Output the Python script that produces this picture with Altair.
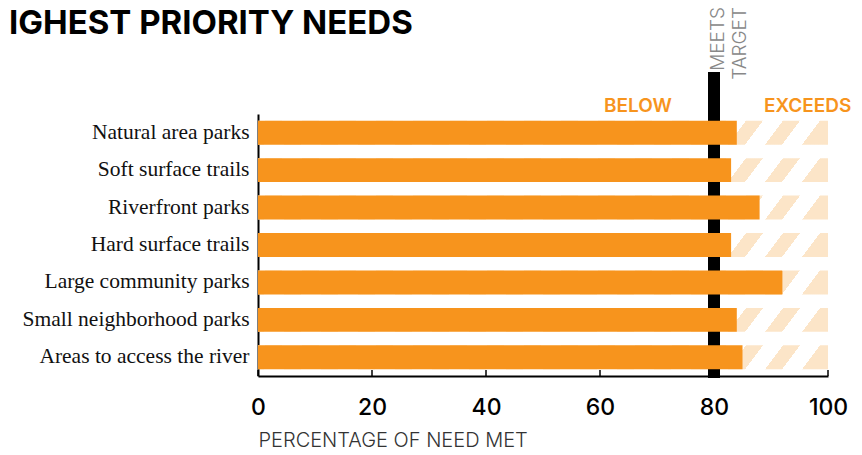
import altair as alt
import pandas as pd

# ---------------- data ----------------
categories = ["Natural area parks", "Soft surface trails", "Riverfront parks",
              "Hard surface trails", "Large community parks",
              "Small neighborhood parks", "Areas to access the river"]
percent_met = [84, 83, 88, 83, 92, 84, 85]
x_ticks = [0, 20, 40, 60, 80, 100]
target_value = [80]
scale_max = 100
title_text = ["IGHEST PRIORITY NEEDS"]
x_title = "PERCENTAGE OF NEED MET"
below_label = ["BELOW"]
exceeds_label = ["EXCEEDS"]
target_label = ["MEETS\nTARGET"]

# ---------------- style ----------------
ORANGE = "#F7941D"
LIGHT = "#FCE5C8"
WHITE = "#FFFFFF"
W, H = 570, 262
P_IN, P_OUT = 0.36, 0.18
BAR_PX = H / (len(categories) - P_IN + 2 * P_OUT) * (1 - P_IN)

# diagonal hatch built as a hard-stop linear gradient
SLOPE = 0.75          # horizontal shift per px of height
PERIOD, WHITE_W, PHASE = 37.0, 20.0, 505.0
b = SLOPE * BAR_PX / W
norm = W * (1 + b * b)


def hatch_color(s):
    return WHITE if ((s - PHASE) % PERIOD) < WHITE_W else LIGHT


edges = []
for k in range(-20, 5):
    for e in (PHASE + k * PERIOD, PHASE + k * PERIOD + WHITE_W):
        if 0 < e < norm:
            edges.append(e)
edges.sort()
stops = [alt.GradientStop(offset=0, color=hatch_color(0.0))]
for e in edges:
    off = e / norm
    stops.append(alt.GradientStop(offset=off, color=hatch_color(e - 0.01)))
    stops.append(alt.GradientStop(offset=off, color=hatch_color(e + 0.01)))
stops.append(alt.GradientStop(offset=1, color=hatch_color(norm)))
hatch = alt.LinearGradient(gradient="linear", stops=stops, x1=0, y1=0, x2=1, y2=b)

df = pd.DataFrame({"category": categories, "pct": percent_met})
ticks_df = pd.DataFrame({"tick": x_ticks})
target_df = pd.DataFrame({"target": target_value})

xscale = alt.Scale(domain=[0, scale_max], nice=False, zero=True)
yscale = alt.Scale(paddingInner=P_IN, paddingOuter=P_OUT)

x_axis = alt.Axis(values=x_ticks, domain=True, domainColor="black",
                  domainWidth=2, ticks=False, tickSize=0, grid=False,
                  labelFont="Inter", labelFontSize=23, labelFontWeight=500,
                  labelColor="black", labelPadding=20, labelFlush=False,
                  titleFont="Inter", titleFontSize=20, titleFontWeight=300,
                  titleColor="#333333", titleAnchor="start", titleAlign="left",
                  titleBaseline="alphabetic", titleX=0, titleY=70)
y_axis = alt.Axis(domain=True, domainColor="black", domainWidth=2,
                  ticks=False, tickSize=0, labelPadding=9,
                  labelFont="Liberation Serif", labelFontSize=21.5,
                  labelColor="#111111", labelLimit=400, grid=False)


def xf(field):
    return alt.X(field, scale=xscale, axis=x_axis, title=x_title)


y_enc = alt.Y("category:N", sort=categories, scale=yscale, title=None, axis=y_axis)

background = alt.Chart(df).mark_bar(fill=hatch, stroke=None).encode(
    x=alt.X(datum=scale_max, type="quantitative", scale=xscale, axis=x_axis, title=x_title),
    y=y_enc,
)

rule = alt.Chart(target_df).mark_rule(color="black", strokeWidth=12).encode(
    x=xf("target:Q"),
    y=alt.value(-42),
    y2=alt.value(H + 2),
)

bars = alt.Chart(df).mark_bar(color=ORANGE).encode(
    x=xf("pct:Q"),
    y=y_enc,
)

tick_marks = alt.Chart(ticks_df).mark_rule(color="black", strokeWidth=1.5).encode(
    x=xf("tick:Q"),
    y=alt.value(H - 6),
    y2=alt.value(H),
)

title = alt.Chart(pd.DataFrame({"t": title_text})).mark_text(
    align="left", baseline="alphabetic", font="Inter", fontSize=33,
    fontWeight="bold", color="black"
).encode(x=alt.value(-249), y=alt.value(-80), text="t:N")

below = alt.Chart(pd.DataFrame({"target": target_value, "t": below_label})).mark_text(
    align="right", baseline="alphabetic", font="Inter", fontSize=19,
    fontWeight=600, color=ORANGE, dx=-42
).encode(x=xf("target:Q"), y=alt.value(-2), text="t:N")

exceeds = alt.Chart(pd.DataFrame({"target": target_value, "t": exceeds_label})).mark_text(
    align="left", baseline="alphabetic", font="Inter", fontSize=19,
    fontWeight=600, color=ORANGE, dx=50
).encode(x=xf("target:Q"), y=alt.value(-2), text="t:N")

meets = alt.Chart(pd.DataFrame({"target": target_value, "t": target_label})).mark_text(
    align="right", baseline="top", angle=270, lineBreak="\n", lineHeight=22,
    font="Inter", fontSize=19, fontWeight=300, color="#888888", dx=0, dy=-5
).encode(x=xf("target:Q"), y=alt.value(-107), text="t:N")

chart = alt.layer(background, rule, bars, tick_marks, title, below, exceeds, meets).properties(
    width=W, height=H,
    autosize=alt.AutoSizeParams(type="none"),
    padding={"left": 250, "top": 106, "right": 26, "bottom": 78},
    background="white",
).configure_view(stroke=None)

chart.save("out.html", embed_options={"renderer": "svg", "actions": False})
